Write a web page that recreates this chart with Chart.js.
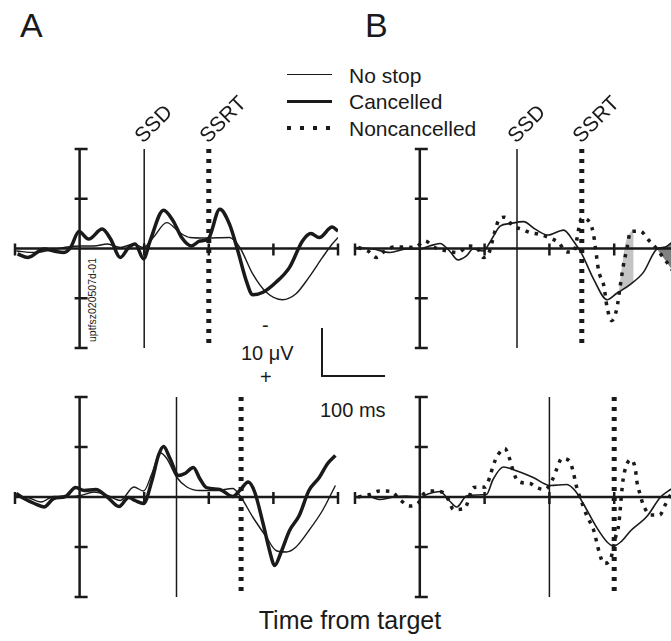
<!DOCTYPE html>
<html lang="en">
<head>
<meta charset="utf-8">
<title>Stop-signal ERPs</title>
<script src="https://cdn.jsdelivr.net/npm/chart.js"></script>
<style>
  body { margin:0; width:671px; height:641px; overflow:hidden; background:#fff; position:relative;
         font-family:"Liberation Sans", Arial, sans-serif; color:#1a1a1a; }
  canvas { position:absolute; }
  .t { position:absolute; white-space:nowrap; line-height:1; }
  .rot { transform-origin:0 100%; transform:rotate(-45deg); font-size:21px; }
  .key { position:absolute; left:287px; width:45px; }
</style>
</head>
<body>
<div class="t" style="left:20px;top:8px;font-size:34px;">A</div>
<div class="t" style="left:365px;top:8px;font-size:34px;">B</div>

<!-- legend -->
<div class="key" style="top:74px;border-top:1.5px solid #1a1a1a;"></div>
<div class="key" style="top:100px;border-top:3.5px solid #1a1a1a;"></div>
<div class="key" style="top:126px;height:4px;width:44px;background:repeating-linear-gradient(90deg,#1a1a1a 0 4px,transparent 4px 13px);"></div>
<div class="t" style="left:349px;top:65px;font-size:21px;">No stop</div>
<div class="t" style="left:349px;top:91px;font-size:21px;">Cancelled</div>
<div class="t" style="left:349px;top:118px;font-size:21px;">Noncancelled</div>

<!-- scale bar -->
<div class="t" style="left:262px;top:315px;font-size:20px;">-</div>
<div class="t" style="left:241px;top:343px;font-size:20px;">10 &mu;V</div>
<div class="t" style="left:260px;top:367px;font-size:20px;">+</div>
<div id="bar" style="position:absolute;border-left:2.5px solid #1a1a1a;border-bottom:2.5px solid #1a1a1a;"></div>
<div class="t" style="left:320px;top:400px;font-size:20px;">100 ms</div>

<div class="t" style="left:92px;top:300px;font-size:10.5px;transform:translate(-50%,-50%) rotate(-90deg);">uptfsz020507d-01</div>
<div class="t" style="left:350px;top:608px;font-size:25px;transform:translateX(-50%);">Time from target</div>

<canvas id="aTop" width="350" height="220"></canvas>
<canvas id="aBot" width="350" height="220"></canvas>
<canvas id="bTop" width="350" height="220"></canvas>
<canvas id="bBot" width="350" height="220"></canvas>

<script>
// axes (time in ms, amplitude in uV, negative plotted up)
var xTicks = [-100, 0, 100, 200, 300, 400];
var yTicks = [-20, -10, 0, 10, 20];
var eventNames = ['SSD', 'SSRT'];

// A top: cancelled vs no stop
var aTopEvents = [100, 200];
var aTopThinT = [-98, -70, -45, -19, 2, 22, 43, 63, 84, 99, 114, 135, 155, 171, 196, 232, 248, 268, 289, 314, 335, 355, 376, 391, 400];
var aTopThinV = [0.5, 0.8, 0.3, -0.3, -0.5, -0.5, -0.9, -0.2, -0.9, -0.2, -2.2, -5.2, -3.2, -2.2, -2.1, -2.2, -0.2, 5.1, 8.8, 10.3, 9.1, 5.8, 1.8, -0.9, -2.2];
var aTopThickT = [-96, -80, -55, -40, -24, -14, -1, 14, 35, 48, 63, 76, 86, 99, 109, 130, 145, 158, 173, 186, 199, 217, 232, 245, 258, 268, 284, 304, 325, 345, 358, 371, 391, 400];
var aTopThickV = [1.1, 1.8, 0.1, 0.5, 0.8, -0.2, -3.4, -1.9, -3.9, -1.9, 1.8, -0.2, -0.9, 2.1, -1.5, -7.7, -5.5, -2.2, -0.5, -1.5, -1.9, -7.9, -4.9, 0.5, 6.5, 9.3, 8.8, 6.8, 3.8, -1.5, -3.0, -2.2, -4.3, -3.5];

// A bottom
var aBotEvents = [150, 250];
var aBotThinT = [-98, -80, -60, -40, -19, 2, 22, 43, 63, 84, 99, 112, 125, 135, 150, 166, 186, 212, 237, 248, 268, 289, 304, 320, 335, 355, 376, 396];
var aBotThinV = [-0.1, 0.1, 1.0, -0.1, -0.1, -0.3, -1.0, -0.3, 0.7, -2.0, -1.2, -4.7, -8.8, -7.7, -4.0, -2.0, -1.3, -1.3, -1.7, -0.3, 4.0, 8.0, 10.7, 11.0, 10.0, 6.7, 2.7, -2.3];
var aBotThickT = [-98, -86, -70, -55, -40, -22, -6, 7, 25, 43, 61, 76, 86, 99, 112, 122, 130, 140, 153, 163, 176, 186, 196, 217, 237, 248, 261, 271, 284, 294, 302, 312, 325, 340, 355, 371, 384, 396];
var aBotThickV = [-0.7, 0.3, 1.3, 2.0, 0.3, -0.1, -1.9, -1.3, -1.5, 0, 1.9, 0.1, 0.7, 1.3, -3.3, -8.3, -10.1, -7.7, -4.3, -4.7, -5.9, -3.7, -1.9, -1.5, -0.1, -1.3, -3.0, -1.0, 5.3, 10.7, 13.7, 11.0, 6.7, 3.7, -1.3, -3.9, -6.7, -8.3];

// B top: noncancelled vs no stop
var bTopEvents = [150, 250];
var bTopThinT = [-98, -72, -46, -21, 0, 15, 31, 46, 59, 72, 82, 98, 108, 124, 139, 160, 178, 198, 222, 237, 250, 268, 289, 304, 325, 345, 366, 379, 389, 400];
var bTopThinV = [-0.2, 0.1, 0.8, 0.1, 0.1, -0.5, -1.0, 0.5, 2.3, 1.5, 0.1, 0.5, -1.2, -4.5, -5.0, -5.4, -3.9, -2.7, -3.7, -1.5, 1.1, 6.1, 10.3, 9.0, 7.2, 4.8, 0.1, -0.3, -1.2, -2.0];
var bTopDotT = [-95, -80, -67, -54, -39, -23, -8, 8, 23, 41, 59, 75, 88, 98, 106, 116, 121, 131, 144, 157, 170, 183, 199, 214, 227, 237, 250, 263, 268, 271, 273, 276, 284, 289, 296, 304, 309, 314, 320, 325, 340, 353, 366, 376, 387, 395];
var bTopDotV = [-0.2, 0.5, 1.8, 0.5, -0.3, -0.3, -0.2, -1.5, -0.2, 0.5, 0.8, -0.5, -0.2, 1.8, 1.1, -3.5, -5.5, -6.3, -4.5, -3.9, -3.2, -2.9, -2.2, -1.2, 0.7, 0.7, -6.1, -5.1, -2.9, -0.2, 1.8, 4.5, 7.5, 11.8, 14.5, 12.1, 7.8, 3.5, -0.2, -3.4, -3.5, -1.7, 0.1, 1.9, 3.8, 5.5];
// shaded differences
var shadeLightT = [307, 312, 317, 322, 327, 330];
var shadeLightDot = [8.8, 3.5, -0.8, -2.6, -3.5, -3.6];
var shadeLightThin = [8.8, 8.4, 7.9, 7.5, 7.0, 6.7];
var shadeDarkT = [366, 372, 378, 384, 390];
var shadeDarkDot = [0.1, 1.2, 2.2, 3.3, 4.4];
var shadeDarkThin = [0.1, -0.1, -0.3, -0.8, -1.3];

// B bottom
var bBotEvents = [200, 300];
var bBotThinT = [-98, -77, -62, -41, -21, 0, 15, 31, 46, 57, 72, 88, 103, 113, 129, 150, 175, 201, 227, 240, 253, 273, 289, 299, 310, 325, 351, 371, 387, 400];
var bBotThinV = [0.1, 0, 0.5, 0, -0.2, 0, -0.7, -1.1, 0.8, 2.0, -0.2, -0.4, -0.5, -3.5, -6.0, -5.2, -3.9, -2.3, -2.5, -1.2, 1.5, 6.1, 9.0, 9.8, 9.0, 6.8, 3.8, 0.1, -1.5, -2.5];
var bBotDotT = [-95, -77, -62, -44, -31, -16, -3, 5, 21, 36, 44, 52, 69, 83, 101, 108, 113, 121, 131, 139, 144, 152, 170, 180, 193, 204, 211, 219, 231, 237, 241, 252, 259, 268, 277, 284, 294, 302, 307, 312, 314, 319, 326, 333, 335, 340, 345, 356, 370, 379, 387, 395];
var bBotDotV = [0, -0.5, -1.2, -1.1, 0.5, 1.8, 1.3, -0.5, -1.2, -0.9, 0.5, 2.5, 2.3, -1.9, -2.0, -4.0, -6.2, -8.5, -9.7, -7.5, -5.2, -3.1, -2.7, -1.9, -1.5, -3.3, -5.5, -7.7, -7.2, -4.9, -2.5, 1.8, 4.1, 6.5, 11.1, 13.3, 12.5, 8.1, 5.5, -1.5, -3.7, -6.4, -7.5, -5.3, -3.1, -0.5, 1.6, 3.6, 3.6, 1.5, -0.4, -1.5];

var ink = '#1a1a1a';

function pts(t, v) {
  return t.map(function (tt, i) { return { x: tt, y: v[i] }; });
}

function curve(t, v, width, dash) {
  return { data: pts(t, v), borderColor: ink, borderWidth: width, borderDash: dash || [],
           borderCapStyle: 'butt', cubicInterpolationMode: 'monotone', pointRadius: 0, fill: false };
}

function eventLine(t, width, dash) {
  return { data: [{ x: t, y: yTicks[0] }, { x: t, y: yTicks[yTicks.length - 1] }],
           borderColor: ink, borderWidth: width, borderDash: dash || [], borderCapStyle: 'butt',
           pointRadius: 0, fill: false };
}

function shade(t, upper, lower, colour) {
  return [
    { data: pts(t, upper), borderWidth: 0, borderColor: 'rgba(0,0,0,0)', backgroundColor: colour,
      cubicInterpolationMode: 'monotone', pointRadius: 0, fill: '+1' },
    { data: pts(t, lower), borderWidth: 0, borderColor: 'rgba(0,0,0,0)',
      cubicInterpolationMode: 'monotone', pointRadius: 0, fill: false }
  ];
}

// axes that cross at (0,0) with ticks on both sides
var crossAxes = {
  id: 'crossAxes',
  afterDatasetsDraw: function (chart) {
    var c = chart.ctx, x = chart.scales.x, y = chart.scales.y;
    var x0 = x.getPixelForValue(0), y0 = y.getPixelForValue(0);
    c.save();
    c.strokeStyle = ink;
    c.lineWidth = 2.5;
    c.beginPath();
    c.moveTo(x.getPixelForValue(xTicks[0]), y0);
    c.lineTo(x.getPixelForValue(xTicks[xTicks.length - 1]), y0);
    c.moveTo(x0, y.getPixelForValue(yTicks[0]));
    c.lineTo(x0, y.getPixelForValue(yTicks[yTicks.length - 1]));
    xTicks.forEach(function (t) {
      if (t === 0) return;
      var px = x.getPixelForValue(t);
      c.moveTo(px, y0 - 5); c.lineTo(px, y0 + 7);
    });
    yTicks.forEach(function (v) {
      if (v === 0) return;
      var py = y.getPixelForValue(v);
      c.moveTo(x0 - 5, py); c.lineTo(x0 + 8, py);
    });
    c.stroke();
    c.restore();
  }
};

function panel(id, left, top, pad, events, sets) {
  var cv = document.getElementById(id);
  cv.style.left = left + 'px';
  cv.style.top = top + 'px';
  var ds = [eventLine(events[1], 5, [4, 6]), eventLine(events[0], 1.5)].concat(sets);
  return new Chart(cv, {
    type: 'line',
    data: { datasets: ds },
    options: {
      responsive: false,
      animation: false,
      layout: { padding: pad },
      plugins: { legend: { display: false }, tooltip: { enabled: false } },
      scales: {
        x: { type: 'linear', min: xTicks[0], max: xTicks[xTicks.length - 1], display: false },
        y: { type: 'linear', min: yTicks[0], max: yTicks[yTicks.length - 1], reverse: true, display: false }
      }
    },
    plugins: [crossAxes]
  });
}

var padTop = { left: 15, right: 12, top: 10, bottom: 11 };
var padBot = { left: 15, right: 12, top: 10, bottom: 10 };
var padTopB = { left: 15, right: 11, top: 10, bottom: 11 };
var padBotB = { left: 15, right: 11, top: 10, bottom: 10 };

var aTop = panel('aTop', 0, 139, padTop, aTopEvents, [
  curve(aTopThickT, aTopThickV, 3.5),
  curve(aTopThinT, aTopThinV, 1.4)
]);
var aBot = panel('aBot', 0, 387, padBot, aBotEvents, [
  curve(aBotThickT, aBotThickV, 3.5),
  curve(aBotThinT, aBotThinV, 1.4)
]);
var bTop = panel('bTop', 340, 139, padTopB, bTopEvents, [
  curve(bTopThinT, bTopThinV, 1.6),
  curve(bTopDotT, bTopDotV, 3.5, [3.5, 6])
].concat(shade(shadeLightT, shadeLightDot, shadeLightThin, '#c4c4c4'))
 .concat(shade(shadeDarkT, shadeDarkDot, shadeDarkThin, '#808080')));
var bBot = panel('bBot', 340, 387, padBotB, bBotEvents, [
  curve(bBotThinT, bBotThinV, 1.6),
  curve(bBotDotT, bBotDotV, 3.5, [3.5, 6])
]);

// SSD / SSRT labels sit on top of the event lines of the upper panels
[[aTop, 0, 139, aTopEvents], [bTop, 340, 139, bTopEvents]].forEach(function (p) {
  var ch = p[0];
  p[3].forEach(function (t, i) {
    var d = document.createElement('div');
    d.className = 't rot';
    d.textContent = eventNames[i];
    var px = p[1] + ch.scales.x.getPixelForValue(t);
    var py = p[2] + ch.scales.y.getPixelForValue(yTicks[0]);
    d.style.left = (px + 1) + 'px';
    d.style.top = (py - 3 - 21) + 'px';
    document.body.appendChild(d);
  });
});

// scale bar: 100 ms by 10 uV, from the upper-left panel's scales
var sx = aTop.scales.x, sy = aTop.scales.y;
var bar = document.getElementById('bar');
bar.style.left = '321px';
bar.style.top = '328px';
bar.style.width = (sx.getPixelForValue(100) - sx.getPixelForValue(0) - 2.5) + 'px';
bar.style.height = (sy.getPixelForValue(10) - sy.getPixelForValue(0) - 2.5) + 'px';
</script>
</body>
</html>
